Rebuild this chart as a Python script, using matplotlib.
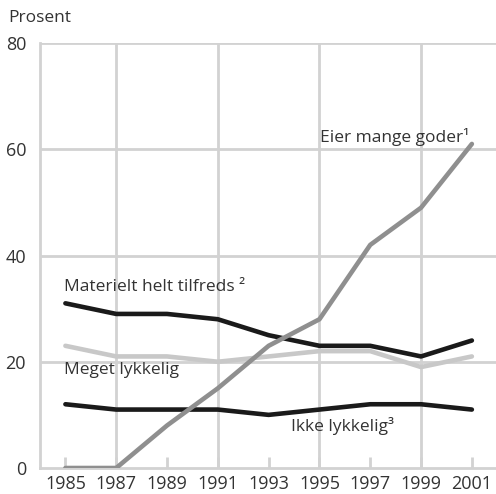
import matplotlib.pyplot as plt

years = [1985, 1987, 1989, 1991, 1993, 1995, 1997, 1999, 2001]
eier_mange_goder = [0, 0, 8, 15, 23, 28, 42, 49, 61]
materielt_tilfreds = [31, 29, 29, 28, 25, 23, 23, 21, 24]
meget_lykkelig = [23, 21, 21, 20, 21, 22, 22, 19, 21]
ikke_lykkelig = [12, 11, 11, 11, 10, 11, 12, 12, 11]
y_ticks = [0, 20, 40, 60, 80]
grid_years = [1987, 1991, 1995, 1999]

plt.rcParams['font.family'] = ['Open Sans', 'DejaVu Sans']
txt = '#333333'
grid_c = '#d2d2d2'

fig = plt.figure(figsize=(4.96, 4.94), dpi=100)
ax = fig.add_axes([40 / 496, 26 / 494, 456 / 496, 425 / 494])

for gx in grid_years:
    ax.axvline(gx, color=grid_c, lw=2, zorder=1)
for gy in y_ticks[1:]:
    ax.axhline(gy, color=grid_c, lw=2, zorder=1)

ax.plot(years, meget_lykkelig, color='#c8c8c8', lw=3.3, zorder=3, solid_capstyle='round')
ax.plot(years, materielt_tilfreds, color='#1a1a1a', lw=3.3, zorder=4, solid_capstyle='round')
ax.plot(years, ikke_lykkelig, color='#1a1a1a', lw=3.3, zorder=4, solid_capstyle='round')
ax.plot(years, eier_mange_goder, color='#8f8f8f', lw=3.3, zorder=5, solid_capstyle='round')

ax.set_xlim(1984.0, 2001.95)
ax.set_ylim(0, 80)
ax.set_xticks(years)
ax.set_yticks(y_ticks)
ax.tick_params(axis='x', direction='in', length=8, width=2, color=grid_c,
               labelsize=13, labelcolor=txt, pad=5)
ax.tick_params(axis='y', length=0, labelsize=13, labelcolor=txt, pad=10)
for s in ['top', 'right']:
    ax.spines[s].set_visible(False)
for s in ['left', 'bottom']:
    ax.spines[s].set_color(grid_c)
    ax.spines[s].set_linewidth(2)

ax.text(2000.9, 62.3, 'Eier mange goder¹', ha='right', va='center', fontsize=12.5, color=txt)
ax.text(1984.95, 34, 'Materielt helt tilfreds ²', ha='left', va='center', fontsize=12.5, color=txt)
ax.text(1984.95, 18.5, 'Meget lykkelig', ha='left', va='center', fontsize=12.5, color=txt)
ax.text(1993.9, 7.9, 'Ikke lykkelig³', ha='left', va='center', fontsize=12.5, color=txt)

fig.text(8 / 496, 1 - 18 / 494, 'Prosent', ha='left', va='center', fontsize=12.5, color=txt)

fig.savefig('out.png', dpi=100)
